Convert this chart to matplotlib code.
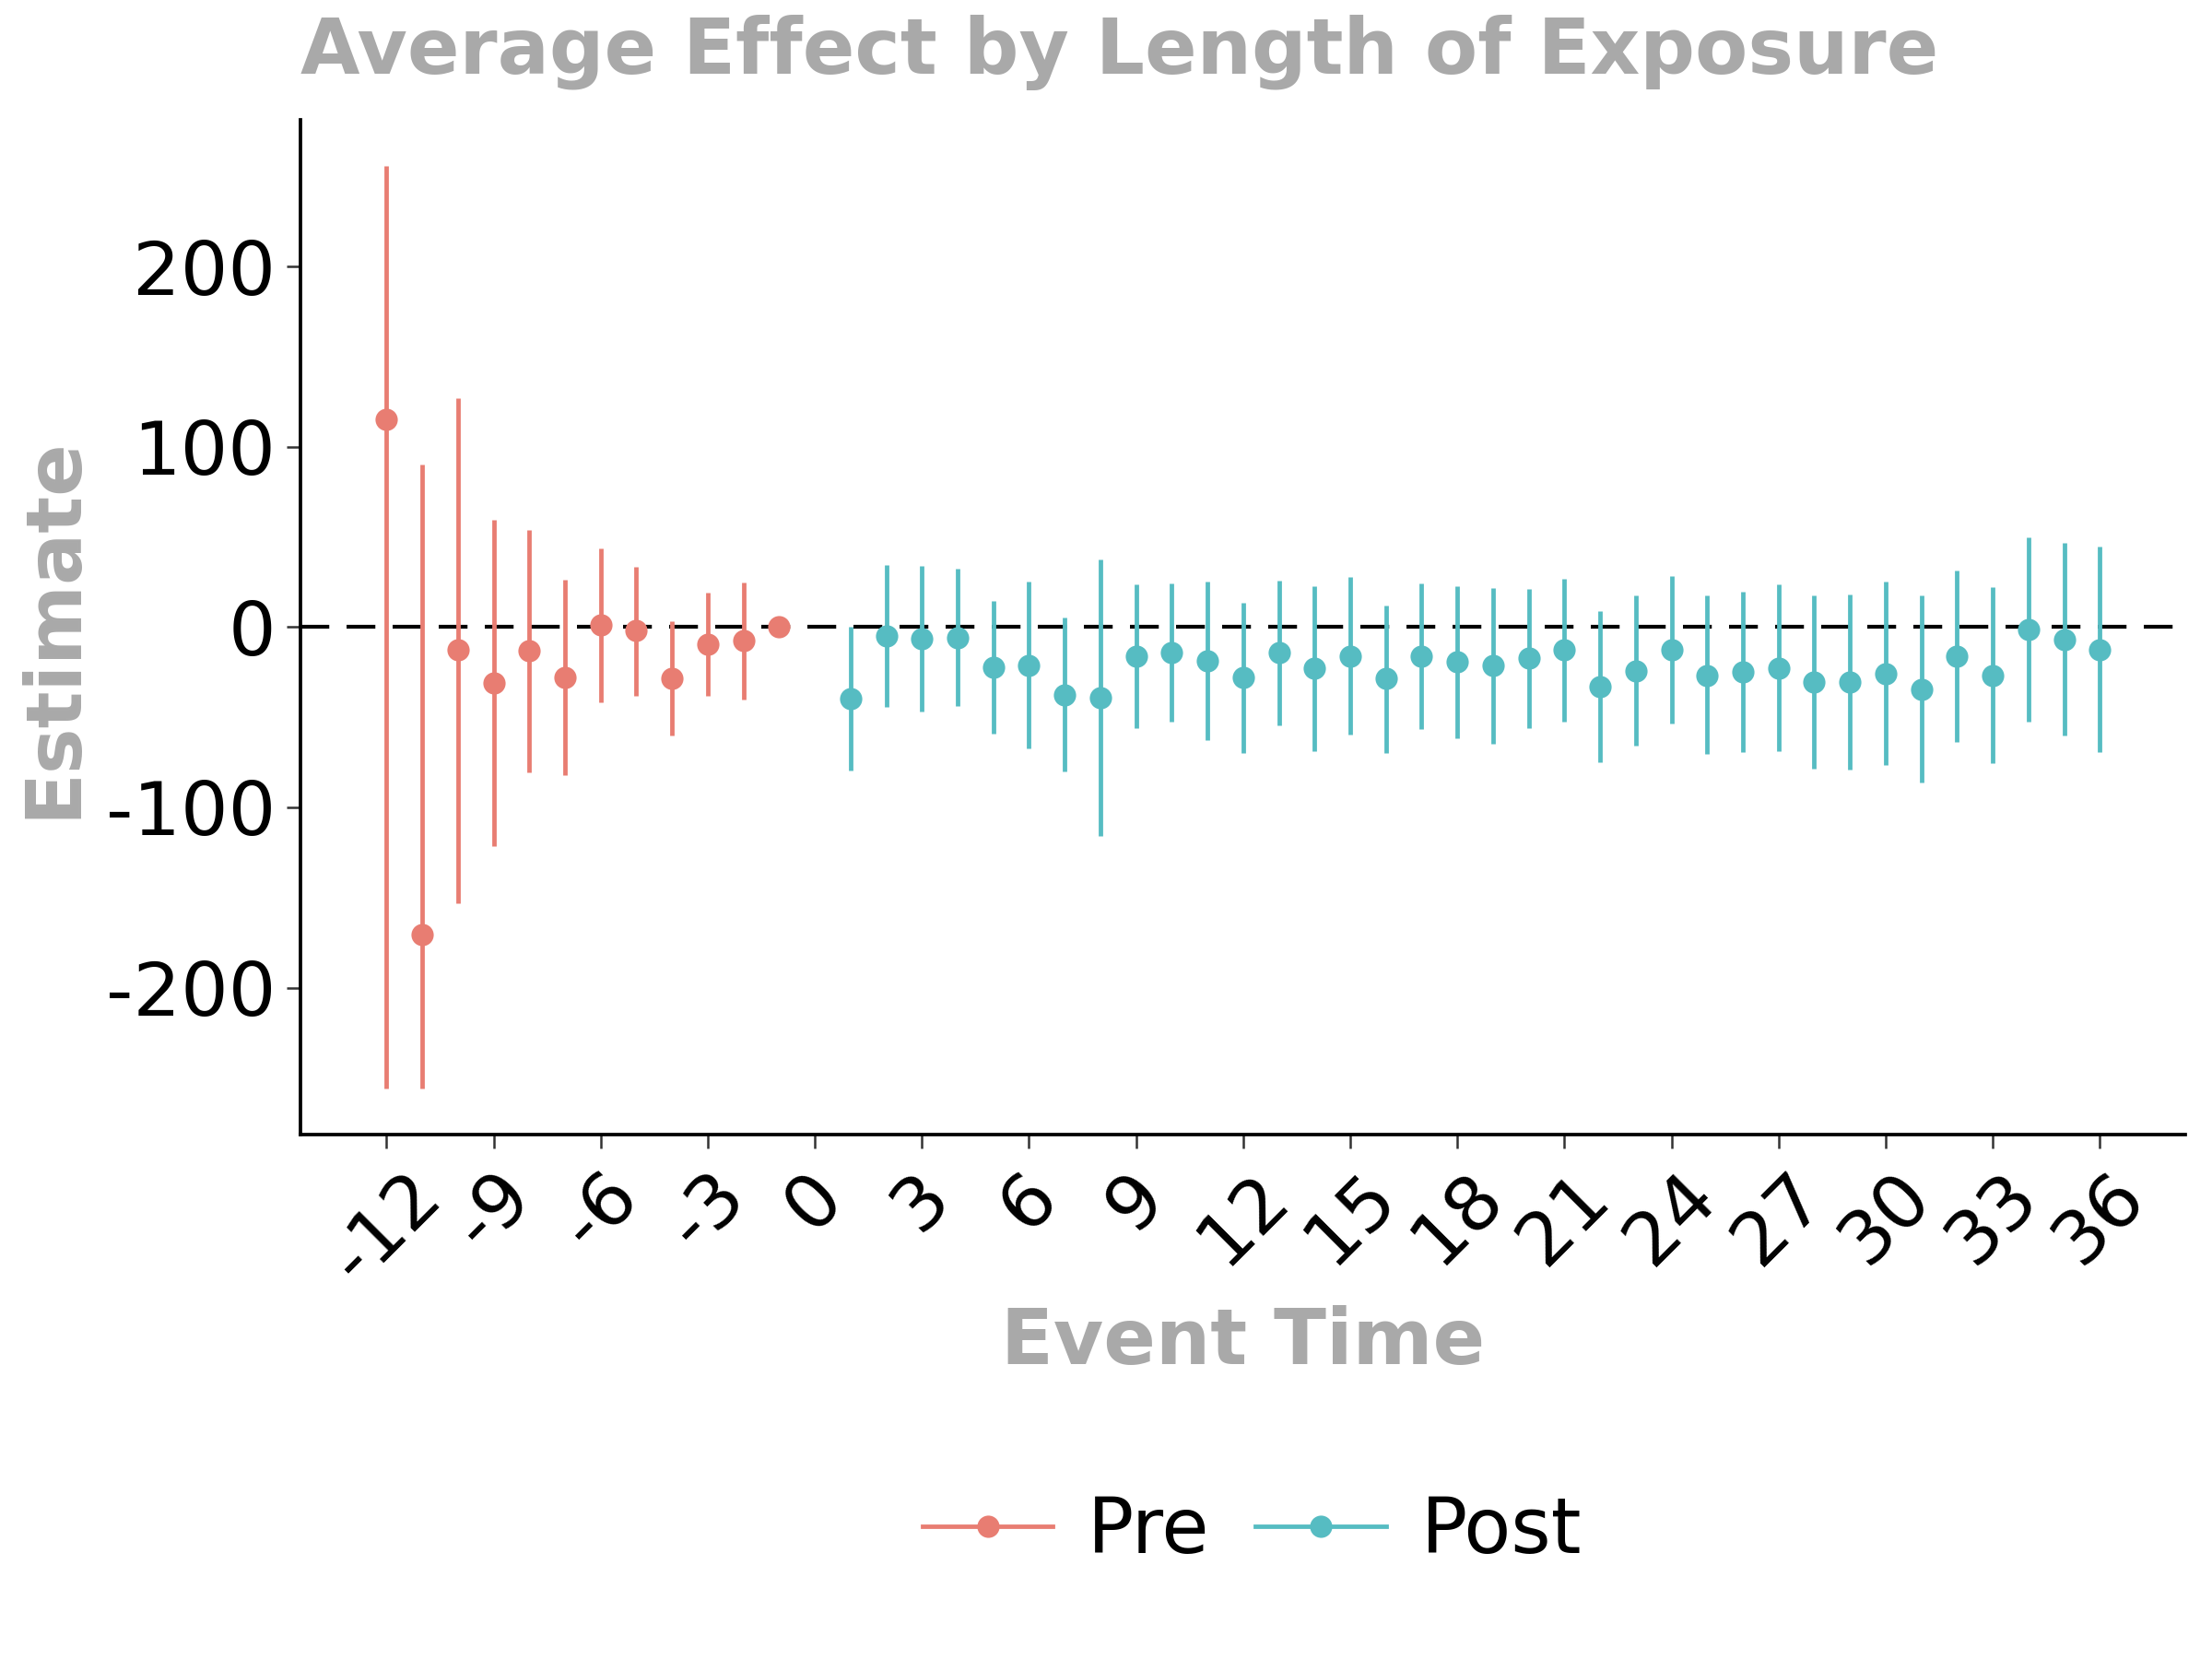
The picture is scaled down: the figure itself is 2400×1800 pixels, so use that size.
import matplotlib
matplotlib.use("Agg")
import matplotlib.pyplot as plt
from matplotlib.lines import Line2D
import numpy as np

# ---- data ----
pre_time = [-12, -11, -10, -9, -8, -7, -6, -5, -4, -3, -2, -1]
pre_est = [115.1, -170.7, -12.7, -30.9, -13.1, -28.0, 1.1, -1.8, -28.3, -9.4, -7.3, 0.0]
pre_lo = [-256.0, -256.0, -153.0, -121.7, -80.6, -82.0, -41.8, -38.1, -60.3, -38.1, -40.0, 0.0]
pre_hi = [256.0, 90.4, 127.0, 59.6, 54.1, 26.2, 43.6, 33.4, 3.3, 18.9, 24.7, 0.0]

post_time = list(range(1, 37))
post_est = [-39.9, -4.9, -6.5, -5.9, -22.2, -21.1, -37.5, -39.0, -16.1, -14.1,
            -18.5, -28.0, -14.1, -22.9, -16.0, -28.5, -16.2, -19.4, -21.4, -17.3,
            -12.7, -32.9, -24.1, -12.6, -26.7, -25.0, -22.6, -30.4, -30.4, -25.8,
            -34.5, -16.1, -26.7, -1.2, -6.8, -12.4]
post_lo = [-79.8, -44.3, -46.9, -44.0, -59.1, -67.1, -80.3, -116.0, -56.0, -52.5,
           -62.5, -69.6, -54.5, -68.8, -59.4, -69.6, -56.4, -61.5, -64.7, -56.2,
           -52.3, -75.0, -66.0, -53.7, -70.6, -69.3, -68.8, -78.3, -79.0, -76.7,
           -86.4, -63.5, -75.6, -52.3, -60.1, -69.3]
post_hi = [0.0, 34.6, 34.1, 32.3, 14.4, 25.1, 5.3, 37.7, 23.9, 24.3,
           25.1, 13.4, 25.6, 22.9, 27.7, 12.2, 24.1, 22.6, 21.7, 21.2,
           26.7, 9.0, 17.7, 28.4, 17.5, 19.7, 23.6, 17.7, 18.3, 25.3,
           17.5, 31.2, 22.1, 49.6, 46.7, 44.5]

x_ticks = list(range(-12, 37, 3))
y_ticks = [-200, -100, 0, 100, 200]
series_names = ["Pre", "Post"]
colors = ["#E87D72", "#56BCC2"]

title = "Average Effect by Length of Exposure"
xlabel = "Event Time"
ylabel = "Estimate"

# ---- plot ----
plt.rcParams['font.family'] = ['DejaVu Sans']
fig = plt.figure(figsize=(8, 6), dpi=300)
ax = fig.add_axes([0.136, 0.316, 0.852, 0.612])

grey = "#A9A9A9"
for t, e, lo, hi, c in [(pre_time, pre_est, pre_lo, pre_hi, colors[0]),
                        (post_time, post_est, post_lo, post_hi, colors[1])]:
    t = np.array(t); e = np.array(e); lo = np.array(lo); hi = np.array(hi)
    ax.vlines(t, lo, hi, color=c, linewidth=1.15, zorder=2)
    ax.plot(t, e, 'o', color=c, markersize=4.8, zorder=3)

ax.axhline(0, color='black', linewidth=1.0, linestyle=(0, (7.5, 4.5)), zorder=1)

ax.set_xlim(-14.4, 38.4)
ax.set_ylim(-281.6, 281.6)
ax.set_xticks(x_ticks)
ax.set_xticklabels([str(v) for v in x_ticks], rotation=45, ha='center', va='top')
ax.set_yticks(y_ticks)
ax.set_yticklabels([str(v) for v in y_ticks])
ax.tick_params(axis='both', labelsize=19.5, length=3.5, width=0.6, color='#333333',
               labelcolor='black', pad=3)

for s in ['top', 'right']:
    ax.spines[s].set_visible(False)
for s in ['left', 'bottom']:
    ax.spines[s].set_linewidth(0.9)
    ax.spines[s].set_color('black')

ax.set_xlabel(xlabel, fontsize=20, fontweight='bold', color=grey, labelpad=2)
ax.set_ylabel(ylabel, fontsize=20, fontweight='bold', color=grey, labelpad=4)
ax.set_title(title, fontsize=20, fontweight='bold', color=grey, loc='left', pad=12)

handles = [Line2D([0], [0], color=c, linewidth=1.15, marker='o', markersize=4.8)
           for c in colors]
fig.legend(handles, series_names, loc='center', bbox_to_anchor=(0.566, 0.077),
           ncol=2, frameon=False, fontsize=20, handlelength=1.7,
           handletextpad=0.45, columnspacing=0.6)

fig.savefig("out.png", dpi=300, facecolor='white')
